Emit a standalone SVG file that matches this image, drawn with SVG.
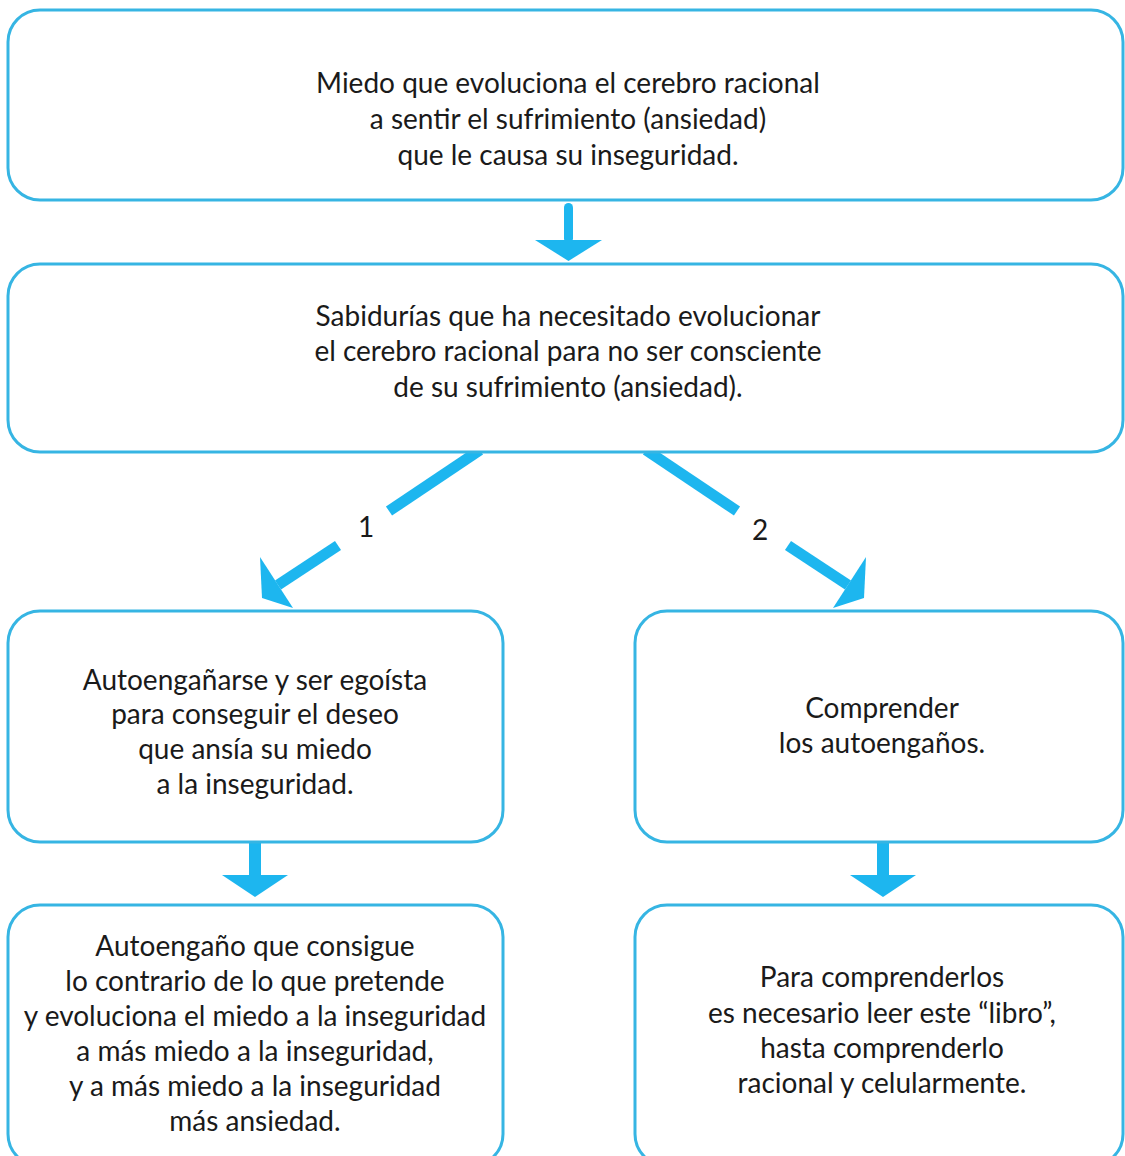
<svg xmlns="http://www.w3.org/2000/svg" width="1125" height="1156" viewBox="0 0 1125 1156">
<style>
.box{fill:#fff;stroke:#36b5e3;stroke-width:3}
.t{font-family:Lato,"Liberation Sans",sans-serif;font-size:28px;fill:#1a1a1a;text-anchor:middle}
.arr{fill:#1db6ef}
.ln{stroke:#1db6ef;stroke-width:11;fill:none}
</style>
<rect width="1125" height="1156" fill="#fff"/>
<g id="connectors">
<rect class="arr" x="564" y="203" width="9" height="40" rx="4.5"/>
<polygon class="arr" points="535,240 602,240 568.5,261"/>
<rect class="arr" x="249" y="840" width="12" height="37"/>
<polygon class="arr" points="222,875 288,875 255,897"/>
<rect class="arr" x="877" y="840" width="12" height="37"/>
<polygon class="arr" points="850,875 916,875 883,897"/>
<line class="ln" x1="480" y1="450" x2="389" y2="511"/>
<line class="ln" x1="338" y1="545.5" x2="278" y2="585"/>
<polygon class="arr" points="260,557 293,608 262,598"/>
<line class="ln" x1="646" y1="450" x2="737" y2="511"/>
<line class="ln" x1="788" y1="545.5" x2="848" y2="585"/>
<polygon class="arr" points="866,557 833,608 864,598"/>
<text class="t" x="366" y="537">1</text>
<text class="t" x="760" y="540">2</text>
</g>
<g id="n1">
<rect class="box" x="8" y="10" width="1115" height="190" rx="32"/>
<text class="t" x="568" y="93">Miedo que evoluciona el cerebro racional</text>
<text class="t" x="568" y="129">a sentir el sufrimiento (ansiedad)</text>
<text class="t" x="568" y="165">que le causa su inseguridad.</text>
</g>
<g id="n2">
<rect class="box" x="8" y="264" width="1115" height="188" rx="32"/>
<text class="t" x="568" y="326">Sabidurías que ha necesitado evolucionar</text>
<text class="t" x="568" y="361">el cerebro racional para no ser consciente</text>
<text class="t" x="568" y="397">de su sufrimiento (ansiedad).</text>
</g>
<g id="n3">
<rect class="box" x="8" y="611" width="495" height="231" rx="32"/>
<text class="t" x="255" y="690">Autoengañarse y ser egoísta</text>
<text class="t" x="255" y="724">para conseguir el deseo</text>
<text class="t" x="255" y="759">que ansía su miedo</text>
<text class="t" x="255" y="794">a la inseguridad.</text>
</g>
<g id="n4">
<rect class="box" x="635" y="611" width="488" height="231" rx="32"/>
<text class="t" x="882" y="718">Comprender</text>
<text class="t" x="882" y="753">los autoengaños.</text>
</g>
<g id="n5">
<rect class="box" x="8" y="905" width="495" height="261" rx="32"/>
<text class="t" x="255" y="956">Autoengaño que consigue</text>
<text class="t" x="255" y="991">lo contrario de lo que pretende</text>
<text class="t" x="255" y="1026">y evoluciona el miedo a la inseguridad</text>
<text class="t" x="255" y="1061">a más miedo a la inseguridad,</text>
<text class="t" x="255" y="1096">y a más miedo a la inseguridad</text>
<text class="t" x="255" y="1131">más ansiedad.</text>
</g>
<g id="n6">
<rect class="box" x="635" y="905" width="488" height="261" rx="32"/>
<text class="t" x="882" y="987">Para comprenderlos</text>
<text class="t" x="882" y="1023">es necesario leer este “libro”,</text>
<text class="t" x="882" y="1058">hasta comprenderlo</text>
<text class="t" x="882" y="1093">racional y celularmente.</text>
</g>
</svg>
